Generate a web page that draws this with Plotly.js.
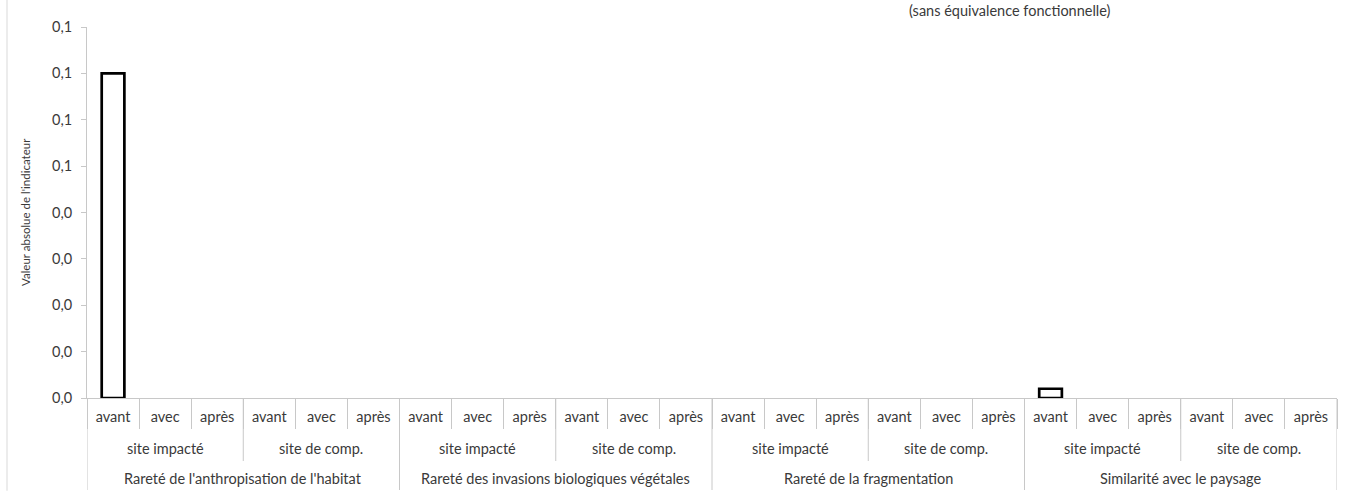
<!DOCTYPE html>
<html>
<head>
<meta charset="utf-8">
<script src="https://cdn.plot.ly/plotly-3.0.1.min.js"></script>
<style>html,body{margin:0;padding:0;background:#fff;}#chart{width:1357px;height:502px;}</style>
</head>
<body>
<div id="chart"></div>
<script>
// ---- data ----
var indicators = ["Rareté de l'anthropisation de l'habitat", "Rareté des invasions biologiques végétales", "Rareté de la fragmentation", "Similarité avec le paysage"];
var sites = ["site impacté", "site de comp."];
var periods = ["avant", "avec", "après"];
var valAnthropisation = [0.07, 0, 0, 0, 0, 0];
var valInvasions = [0, 0, 0, 0, 0, 0];
var valFragmentation = [0, 0, 0, 0, 0, 0];
var valPaysage = [0.002, 0, 0, 0, 0, 0];
var yTickVals = [0, 0.01, 0.02, 0.03, 0.04, 0.05, 0.06, 0.07, 0.08];
var yTickLabels = ["0,0", "0,0", "0,0", "0,0", "0,0", "0,1", "0,1", "0,1", "0,1"];
var yTitle = "Valeur absolue de l'indicateur";
var noteText = "(sans équivalence fonctionnelle)";

// ---- build ----
var seriesByIndicator = [valAnthropisation, valInvasions, valFragmentation, valPaysage];
var xKeys = [], yVals = [], tickText = [];
indicators.forEach(function (ind, i) {
  sites.forEach(function (s, j) {
    periods.forEach(function (p, k) {
      xKeys.push(i + "|" + j + "|" + k);
      var v = seriesByIndicator[i][j * periods.length + k];
      yVals.push(v === 0 ? null : v); // zero-height bars are not drawn (as in the original)
      tickText.push(p);
    });
  });
});

var FONT = "Lato, 'Open Sans', sans-serif";
var FS = 14.5;
var TXT = "#3a3a3a";
var GRID = "#c8c8c8";

var shapes = [], annotations = [];
var nPer = periods.length, nSite = sites.length;
var perInd = nPer * nSite;
for (var b = 0; b <= xKeys.length; b += nPer) {
  var isInd = (b % perInd === 0);
  shapes.push({
    type: "line", xref: "x", yref: "paper", ysizemode: "pixel", yanchor: 0,
    x0: b - 0.5, x1: b - 0.5, y0: 0, y1: isInd ? -92 : -63,
    line: { color: GRID, width: 1 }
  });
}
indicators.forEach(function (ind, i) {
  sites.forEach(function (s, j) {
    var c = i * perInd + j * nPer + (nPer - 1) / 2;
    annotations.push({ text: s, xref: "x", yref: "paper", x: c, y: 0, yanchor: "middle", yshift: -50, showarrow: false, font: { family: FONT, size: FS, color: TXT } });
  });
  var ci = i * perInd + (perInd - 1) / 2;
  annotations.push({ text: ind, xref: "x", yref: "paper", x: ci, y: 0, yanchor: "middle", yshift: -80, showarrow: false, font: { family: FONT, size: FS, color: TXT } });
});
annotations.push({ text: yTitle, xref: "paper", yref: "paper", x: 0, y: 0.5, xshift: -70, textangle: -90, showarrow: false, font: { family: FONT, size: 11.5, color: TXT } });
annotations.push({ text: noteText, xref: "paper", yref: "paper", x: 0.662, y: 1, yshift: 17, xanchor: "left", yanchor: "middle", xshift: -8, showarrow: false, font: { family: FONT, size: FS, color: TXT } });
shapes.push({ type: "line", xref: "paper", yref: "paper", xsizemode: "pixel", xanchor: 0, x0: -80, x1: -80, y0: -0.25, y1: 1.1, line: { color: "#d9d9d9", width: 1 } });

var trace = {
  type: "bar", x: xKeys, y: yVals,
  marker: { color: "#ffffff", line: { color: "#000000", width: 2.7 } },
  hoverinfo: "skip"
};

var layout = {
  width: 1357, height: 502,
  margin: { l: 87, r: 20, t: 27, b: 104 },
  paper_bgcolor: "#fff", plot_bgcolor: "#fff",
  bargap: 0.565,
  showlegend: false,
  font: { family: FONT, size: FS, color: TXT },
  xaxis: {
    type: "category", tickmode: "array", tickvals: xKeys, ticktext: tickText,
    range: [-0.5, xKeys.length - 0.5],
    showline: true, linecolor: GRID, linewidth: 1,
    ticks: "outside", tickson: "boundaries", ticklen: 30, tickcolor: GRID, tickwidth: 1,
    ticklabelstandoff: 6,
    showgrid: false, zeroline: false, tickangle: 0,
    tickfont: { family: FONT, size: FS, color: TXT }
  },
  yaxis: {
    range: [0, 0.08], tickmode: "array", tickvals: yTickVals, ticktext: yTickLabels,
    showline: true, linecolor: GRID, linewidth: 1,
    ticks: "outside", ticklen: 5, tickcolor: GRID,
    ticklabelstandoff: 6,
    showgrid: false, zeroline: false,
    tickfont: { family: FONT, size: FS, color: TXT }
  },
  shapes: shapes, annotations: annotations
};

Plotly.newPlot("chart", [trace], layout, { displayModeBar: false, staticPlot: true });
</script>
</body>
</html>
